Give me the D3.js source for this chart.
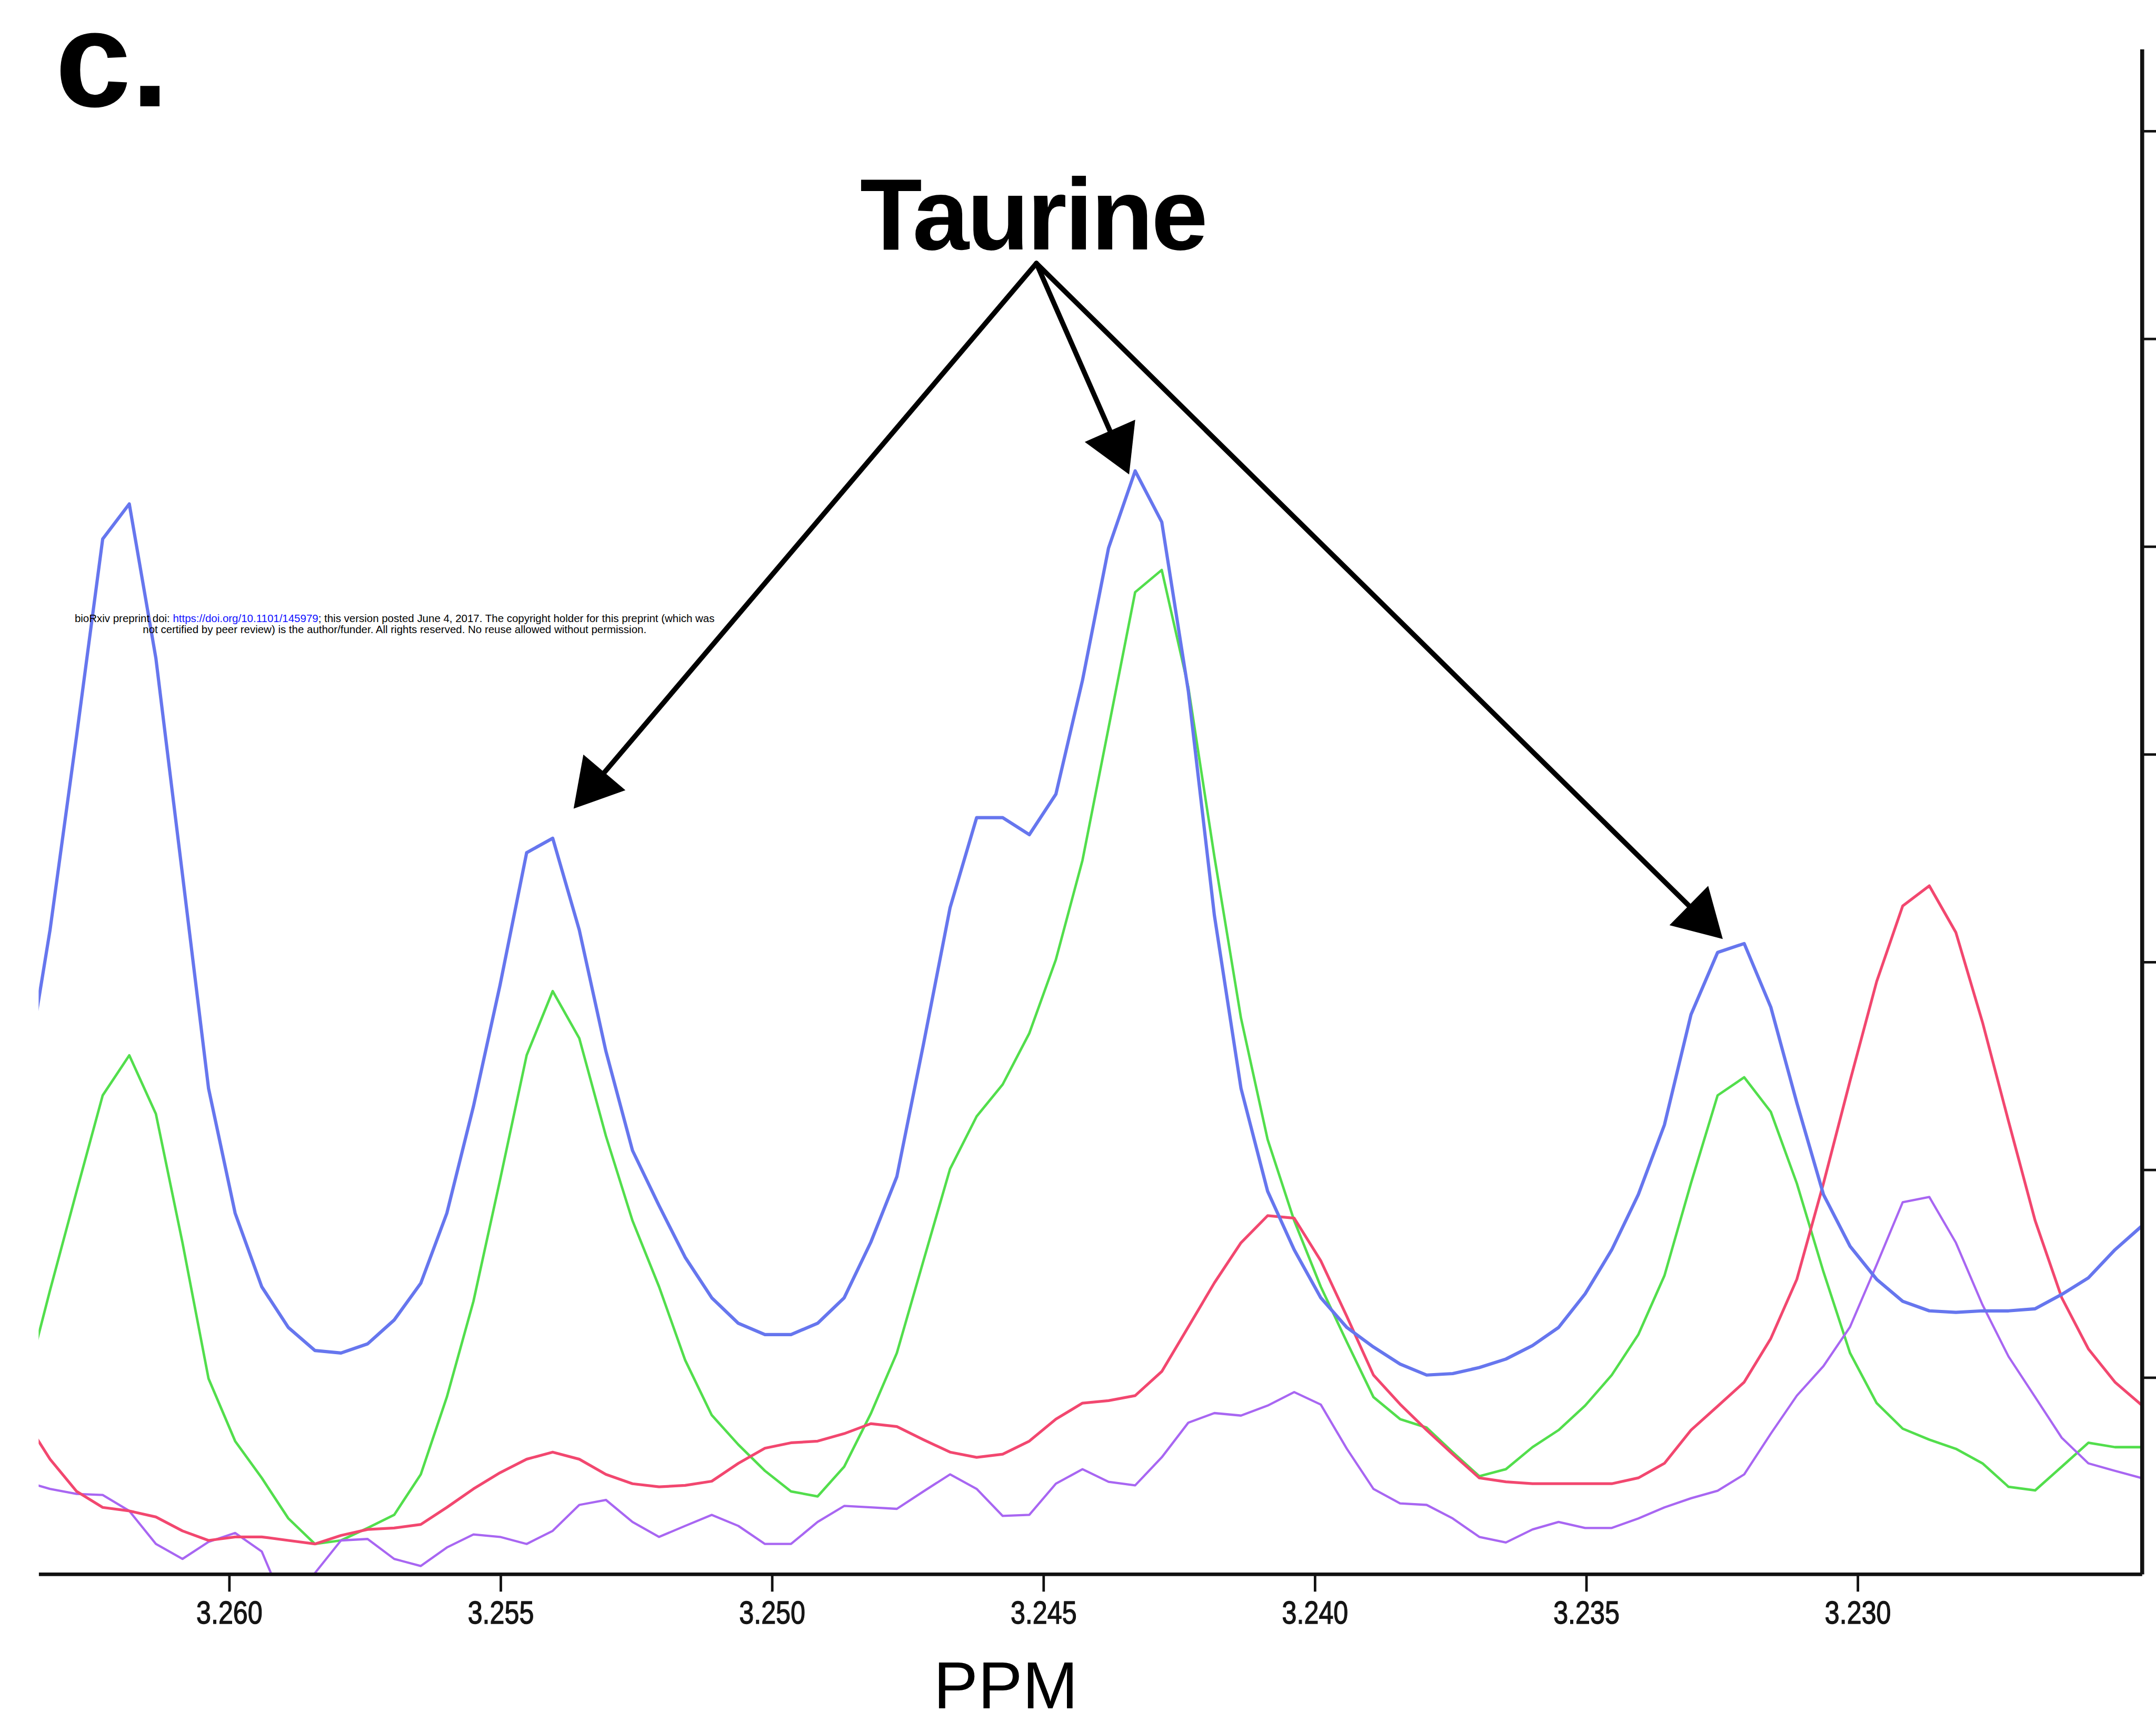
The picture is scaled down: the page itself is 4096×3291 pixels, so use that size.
<!DOCTYPE html>
<html>
<head>
<meta charset="utf-8">
<script src="https://cdn.jsdelivr.net/npm/d3@7"></script>
<style>
  html, body { margin: 0; padding: 0; background: #ffffff; }
  svg { display: block; }
</style>
</head>
<body>
<div id="chart"></div>
<script>
// ---------------- data ----------------
// chemical shift (ppm) of each spectral point
const ppm = [3.26379,3.26330,3.26281,3.26233,3.26184,3.26135,3.26086,3.26038,3.25989,3.25940,
  3.25891,3.25842,3.25794,3.25745,3.25696,3.25647,3.25599,3.25550,3.25501,3.25452,
  3.25404,3.25355,3.25306,3.25257,3.25208,3.25160,3.25111,3.25062,3.25013,3.24965,
  3.24916,3.24867,3.24818,3.24770,3.24721,3.24672,3.24623,3.24575,3.24526,3.24477,
  3.24428,3.24380,3.24331,3.24282,3.24233,3.24185,3.24136,3.24087,3.24038,3.23989,
  3.23941,3.23892,3.23843,3.23794,3.23746,3.23697,3.23648,3.23599,3.23551,3.23502,
  3.23453,3.23404,3.23356,3.23307,3.23258,3.23209,3.23160,3.23112,3.23063,3.23014,
  3.22965,3.22917,3.22868,3.22819,3.22770,3.22722,3.22673,3.22624,3.22575,3.22526,3.22478];

const blueSpectrum = [23.70,31.54,40.90,50.36,52.05,44.62,34.20,23.92,17.91,14.37,
  12.41,11.30,11.18,11.62,12.77,14.54,17.91,23.05,28.89,35.26,
  35.96,31.54,25.71,20.93,18.27,15.79,13.84,12.61,12.07,12.07,
  12.61,13.84,16.51,19.67,26.04,32.61,36.95,36.95,36.13,38.08,
  43.56,49.93,53.64,51.18,43.03,32.24,23.92,18.97,16.15,13.84,
  12.41,11.47,10.65,10.12,10.19,10.48,10.89,11.54,12.41,14.03,
  16.15,18.81,22.16,27.47,30.46,30.89,27.83,23.22,18.81,16.32,
  14.73,13.67,13.21,13.14,13.21,13.21,13.31,14.00,14.80,16.15,17.26];

const greenSpectrum = [9.23,14.20,18.97,23.58,25.51,22.69,16.49,9.95,6.94,5.17,
  3.22,1.99,2.16,2.76,3.39,5.34,9.06,13.67,19.51,25.51,
  28.60,26.33,21.63,17.55,14.37,10.84,8.19,6.77,5.51,4.52,
  4.28,5.71,8.26,11.18,15.62,20.04,22.57,24.11,26.57,30.12,
  34.90,41.27,47.80,48.87,43.22,35.07,27.30,21.46,17.55,14.37,
  11.71,9.06,8.00,7.59,6.41,5.25,5.59,6.65,7.47,8.65,
  10.12,12.07,14.90,19.36,23.58,24.45,22.79,19.34,15.09,11.18,
  8.77,7.54,7.01,6.57,5.87,4.74,4.57,5.71,6.86,6.65,6.65];

const redSpectrum = [8.09,6.07,4.52,3.75,3.58,3.29,2.62,2.16,2.33,2.33,
  2.16,1.99,2.40,2.69,2.76,2.93,3.75,4.64,5.42,6.07,
  6.41,6.07,5.34,4.89,4.74,4.81,5.01,5.87,6.60,6.86,
  6.94,7.30,7.78,7.64,7.01,6.41,6.16,6.31,6.94,8.00,
  8.77,8.89,9.13,10.29,12.44,14.56,16.49,17.79,17.67,15.62,
  12.94,10.12,8.72,7.47,6.31,5.17,4.98,4.89,4.89,4.89,
  4.89,5.17,5.87,7.47,8.62,9.78,11.88,14.73,19.34,24.28,
  29.06,32.70,33.67,31.42,27.10,22.33,17.55,13.84,11.38,9.78,8.70];

const purpleSpectrum = [5.01,4.64,4.40,4.35,3.58,1.99,1.27,2.09,2.52,1.63,
  -1.39,0.59,2.16,2.23,1.27,0.93,1.82,2.45,2.33,1.99,
  2.62,3.87,4.11,3.05,2.33,2.86,3.39,2.86,1.99,1.99,
  3.05,3.82,3.75,3.68,4.52,5.34,4.64,3.34,3.39,4.89,
  5.59,4.98,4.81,6.16,7.83,8.29,8.17,8.65,9.30,8.70,
  6.57,4.64,3.94,3.87,3.22,2.33,2.06,2.69,3.05,2.76,
  2.76,3.22,3.75,4.19,4.55,5.34,7.30,9.13,10.55,12.44,
  15.43,18.44,18.69,16.49,13.50,11.01,9.06,7.10,5.87,5.51,5.17];

const seriesNames = ["green", "purple", "red", "blue"];
const seriesColors = ["#52de4c", "#a866f2", "#f2476f", "#6676ee"];
const seriesValues = [greenSpectrum, purpleSpectrum, redSpectrum, blueSpectrum];
const seriesWidths = [5, 4.5, 5.5, 6.5];

const xTickValues = [3.260, 3.255, 3.250, 3.245, 3.240, 3.235, 3.230];
const yTickValues = [10, 20, 30, 40, 50, 60, 70];

// annotation: arrow start and arrow tips in data coordinates (ppm, intensity)
const arrowOrigin = [3.245129, 63.63];
const arrowTips = [[3.253655, 37.38], [3.243421, 53.47], [3.232485, 31.11]];

const panelLabel = "c.";
const annotationLabel = "Taurine";
const xAxisTitle = "PPM";

// ---------------- layout (reference pixels; viewBox scales to 0.952) ----------------
const W = 4300, H = 3455;
const plot = { left: 77, right: 4272, top: 98, bottom: 3140 };

const svg = d3.select("#chart").append("svg")
  .attr("width", 4096).attr("height", 3291)
  .attr("viewBox", `0 0 ${W} ${H}`);

svg.append("rect").attr("width", W).attr("height", H).attr("fill", "#ffffff");

const x = d3.scaleLinear().domain([3.26351, 3.224763]).range([plot.left, plot.right]);
const y = d3.scaleLinear().domain([0.54, 73.94]).range([plot.bottom, plot.top]);

svg.append("defs").append("clipPath").attr("id", "plotclip")
  .append("rect")
  .attr("x", plot.left).attr("y", plot.top)
  .attr("width", plot.right - plot.left).attr("height", plot.bottom - plot.top);

// ---------------- lines ----------------
const line = d3.line()
  .x((d, i) => x(ppm[i]))
  .y(d => y(d));

const gLines = svg.append("g").attr("clip-path", "url(#plotclip)");
seriesValues.forEach((vals, k) => {
  gLines.append("path")
    .datum(vals)
    .attr("d", line)
    .attr("fill", "none")
    .attr("stroke", seriesColors[k])
    .attr("stroke-width", seriesWidths[k])
    .attr("stroke-linejoin", "round")
    .attr("stroke-linecap", "round")
    .attr("class", "series-" + seriesNames[k]);
});

// ---------------- axes ----------------
const fontFam = "'Liberation Sans', Arial, Helvetica, sans-serif";

const xAxis = d3.axisBottom(x)
  .tickValues(xTickValues)
  .tickFormat(d3.format(".3f"))
  .tickSize(35)
  .tickSizeOuter(0)
  .tickPadding(20);

const gx = svg.append("g")
  .attr("transform", `translate(0,${plot.bottom})`)
  .call(xAxis);
gx.select(".domain").attr("stroke", "#111").attr("stroke-width", 7);
gx.selectAll(".tick line").attr("stroke", "#111").attr("stroke-width", 5);
gx.selectAll(".tick text")
  .attr("fill", "#151515")
  .attr("stroke", "#151515")
  .attr("stroke-width", 1.5)
  .attr("font-family", fontFam)
  .attr("font-size", 64)
  .attr("dy", null)
  .attr("y", 99)
  .attr("textLength", 132)
  .attr("lengthAdjust", "spacingAndGlyphs");

const yAxis = d3.axisRight(y)
  .tickValues(yTickValues)
  .tickFormat("")
  .tickSize(40)
  .tickSizeOuter(0);

const gy = svg.append("g")
  .attr("transform", `translate(${plot.right},0)`)
  .call(yAxis);
gy.select(".domain").attr("stroke", "#111").attr("stroke-width", 8);
gy.selectAll(".tick line").attr("stroke", "#111").attr("stroke-width", 5);

// ---------------- texts ----------------
svg.append("text")
  .attr("x", 110).attr("y", 212)
  .attr("font-family", fontFam).attr("font-weight", "bold")
  .attr("font-size", 272).attr("fill", "#000")
  .text(panelLabel);

svg.append("text")
  .attr("x", x(arrowOrigin[0]) - 7).attr("y", 498)
  .attr("text-anchor", "middle")
  .attr("font-family", fontFam).attr("font-weight", "bold")
  .attr("font-size", 203).attr("letter-spacing", -4).attr("fill", "#000")
  .text(annotationLabel);

svg.append("text")
  .attr("x", 2006).attr("y", 3408)
  .attr("text-anchor", "middle")
  .attr("font-family", fontFam)
  .attr("font-size", 133).attr("fill", "#000")
  .text(xAxisTitle);

// bioRxiv watermark
const wm = svg.append("g").attr("font-family", fontFam).attr("font-size", 21.5).attr("fill", "#000");
const wm1 = wm.append("text").attr("x", 787).attr("y", 1241).attr("text-anchor", "middle");
wm1.append("tspan").text("bioRxiv preprint doi: ");
wm1.append("tspan").attr("fill", "#1010ff").text("https://doi.org/10.1101/145979");
wm1.append("tspan").text("; this version posted June 4, 2017. The copyright holder for this preprint (which was");
wm.append("text").attr("x", 787).attr("y", 1263).attr("text-anchor", "middle")
  .text("not certified by peer review) is the author/funder. All rights reserved. No reuse allowed without permission.");

// ---------------- arrows ----------------
const headLen = 95, headHalf = 55;
const ox = x(arrowOrigin[0]), oy = y(arrowOrigin[1]);
const gArr = svg.append("g");
arrowTips.forEach(t => {
  const tx = x(t[0]), ty = y(t[1]);
  const dx = tx - ox, dy = ty - oy, L = Math.hypot(dx, dy);
  const ux = dx / L, uy = dy / L;
  const bx = tx - ux * headLen, by = ty - uy * headLen;
  gArr.append("line")
    .attr("x1", ox).attr("y1", oy)
    .attr("x2", bx + ux * 4).attr("y2", by + uy * 4)
    .attr("stroke", "#000").attr("stroke-width", 10).attr("stroke-linecap", "round");
  gArr.append("polygon")
    .attr("points", [[tx, ty], [bx - uy * headHalf, by + ux * headHalf], [bx + uy * headHalf, by - ux * headHalf]]
      .map(p => p.join(",")).join(" "))
    .attr("fill", "#000");
});
</script>
</body>
</html>
